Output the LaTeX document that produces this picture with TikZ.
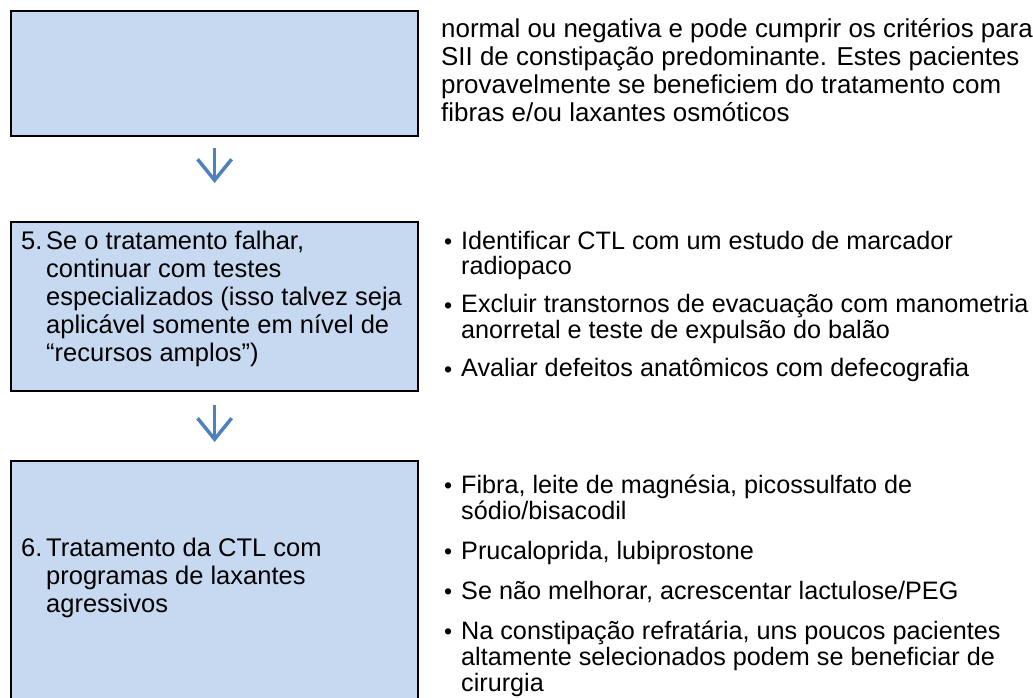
\documentclass[tikz,border=0pt]{standalone}
\usepackage{fontspec}
\setmainfont{Liberation Sans}
\usetikzlibrary{arrows.meta}
\definecolor{boxfill}{HTML}{C6D9F0}
\definecolor{arrowblue}{HTML}{4F81BD}
\newcommand{\txtfont}{\fontsize{25.5}{28}\selectfont}
\newcommand{\topfont}{\fontsize{25.9}{28}\selectfont}
\newcommand{\bulfont}{\fontsize{25.2}{25.5}\selectfont}
\newcommand{\bul}{{\fontsize{23}{23}\selectfont\raisebox{-0.3pt}{•}}}
\begin{document}
\begin{tikzpicture}[x=1pt,y=-1pt,
  box/.style={draw=black, line width=2.2pt, fill=boxfill, minimum width=407pt, anchor=north west, inner sep=0pt},
  txt/.style={anchor=base west, inner sep=0pt, font=\txtfont},
  toptxt/.style={anchor=base west, inner sep=0pt, font=\topfont},
  bultxt/.style={anchor=base west, inner sep=0pt, font=\bulfont},
  arr/.style={draw=arrowblue, line width=3pt, -{Straight Barb[length=21pt,width=34pt,line width=3.5pt]}}]
\useasboundingbox (0,0) rectangle (1033,698);
% boxes
\node[box, minimum height=125pt] (b1) at (10,10) {};
\node[box, minimum height=169pt] (b2) at (10,221) {};
\node[box, minimum height=260pt] (b3) at (10,460) {};
% arrows
\draw[arr] ([yshift=-11pt]b1.south) -- ([yshift=38pt]b2.north);
\draw[arr] ([yshift=-13pt]b2.south) -- ([yshift=18pt]b3.north);
% top right text
\node[toptxt] (t1) at (441,38) {\begin{tabular}[t]{@{}l@{}}
normal ou negativa e pode cumprir os critérios para\\
SII de constipação predominante. Estes pacientes\\
provavelmente se beneficiem do tratamento com\\
fibras e/ou laxantes osmóticos\end{tabular}};
% box 2 text
\node[txt] (l2) at (21,249) {\begin{tabular}[t]{@{}p{25pt}@{}l@{}}
5. & Se o tratamento falhar,\\
 & continuar com testes\\
 & especializados (isso talvez seja\\
 & aplicável somente em nível de\\
 & “recursos amplos”)\end{tabular}};
\node[bultxt] (r2) at (444,249) {\begin{tabular}[t]{@{}p{17pt}@{}l@{}}
\bul & Identificar CTL com um estudo de marcador\\
 & radiopaco\\[12pt]
\bul & Excluir transtornos de evacuação com manometria\\
 & anorretal e teste de expulsão do balão\\[12pt]
\bul & Avaliar defeitos anatômicos com defecografia\end{tabular}};
% box 3 text
\node[txt] (l3) at (21,556) {\begin{tabular}[t]{@{}p{25pt}@{}l@{}}
6. & Tratamento da CTL com\\
 & programas de laxantes\\
 & agressivos\end{tabular}};
\node[bultxt] (r3) at (444,493) {\begin{tabular}[t]{@{}p{17pt}@{}l@{}}
\bul & Fibra, leite de magnésia, picossulfato de\\
 & sódio/bisacodil\\[14pt]
\bul & Prucaloprida, lubiprostone\\[14pt]
\bul & Se não melhorar, acrescentar lactulose/PEG\\[14pt]
\bul & Na constipação refratária, uns poucos pacientes\\
 & altamente selecionados podem se beneficiar de\\
 & cirurgia\end{tabular}};
\end{tikzpicture}
\end{document}
